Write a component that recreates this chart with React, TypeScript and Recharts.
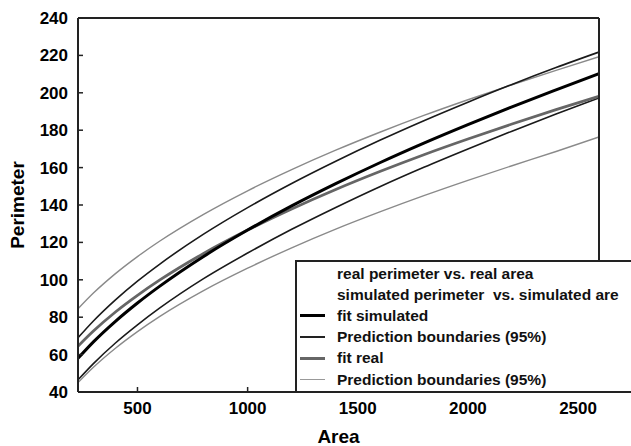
import React from 'react';
import { LineChart, Line, XAxis, YAxis, Legend, Label } from 'recharts';

// Area values (x) at which the curves were read
const areaValues = [230, 300, 400, 500, 600, 800, 1000, 1200, 1400, 1600, 1800, 2000, 2200, 2400, 2595];
// Perimeter values
const fitSimulated = [58.0, 66.8, 77.8, 87.6, 96.5, 112.5, 126.6, 139.5, 151.4, 162.6, 173.1, 183.0, 192.5, 201.6, 210.3];
const simUpper = [69.0, 78.0, 89.3, 99.3, 108.3, 124.4, 138.6, 151.5, 163.4, 174.6, 185.1, 195.0, 204.5, 213.5, 221.8];
const simLower = [46.5, 55.2, 66.2, 75.9, 84.8, 100.6, 114.3, 127.0, 138.7, 149.8, 160.2, 170.0, 179.5, 188.7, 197.3];
const fitReal = [64.5, 72.6, 82.8, 91.7, 99.8, 114.1, 126.6, 137.9, 148.3, 157.9, 166.9, 175.3, 183.3, 191.0, 198.2];
const realUpper = [84.5, 92.9, 103.3, 112.4, 120.6, 135.0, 147.6, 158.9, 169.3, 178.9, 187.9, 196.3, 204.3, 212.0, 219.3];
const realLower = [45.0, 53.2, 63.4, 72.3, 80.3, 94.2, 106.2, 117.1, 127.1, 136.3, 145.0, 153.2, 161.0, 168.6, 176.4];

const xTicks = [500, 1000, 1500, 2000, 2500];
const yTicks = [40, 60, 80, 100, 120, 140, 160, 180, 200, 220, 240];

const legendLabels = [
  'real perimeter vs. real area',
  'simulated perimeter  vs. simulated are',
  'fit simulated',
  'Prediction boundaries (95%)',
  'fit real',
  'Prediction boundaries (95%)',
];

const data = areaValues.map((a, i) => ({
  area: a,
  fitSim: fitSimulated[i],
  simUp: simUpper[i],
  simLo: simLower[i],
  fitReal: fitReal[i],
  realUp: realUpper[i],
  realLo: realLower[i],
}));

const legendMarkers: ({ stroke: string; w: number } | null)[] = [
  null,
  null,
  { stroke: '#000', w: 3.5 },
  { stroke: '#222', w: 2 },
  { stroke: '#666', w: 3 },
  { stroke: '#999', w: 1.6 },
];

const FONT = '"Liberation Sans", Arial, Helvetica, sans-serif';

const renderLegend = () => (
  <div
    style={{
      boxSizing: 'border-box',
      width: 336,
      height: 133,
      background: '#fff',
      borderTop: '2px solid #222',
      borderLeft: '2px solid #222',
      borderBottom: '2px solid #222',
      overflow: 'hidden',
      paddingTop: 1,
      fontWeight: 'bold',
      fontSize: 15.5,
      color: '#111',
      fontFamily: FONT,
    }}
  >
    {legendLabels.map((label, i) => {
      const m = legendMarkers[i];
      return (
        <div key={i} style={{ display: 'flex', alignItems: 'center', height: 21.2, whiteSpace: 'pre' }}>
          <div
            style={{
              width: 25,
              marginLeft: 3,
              marginRight: 12,
              height: 0,
              borderTop: m ? `${m.w}px solid ${m.stroke}` : 'none',
              flex: '0 0 auto',
            }}
          />
          <span>{label}</span>
        </div>
      );
    })}
  </div>
);

const axisLineStyle = { stroke: '#222', strokeWidth: 2 };
const tickLineStyle = { stroke: '#222', strokeWidth: 1.5 };
const tickStyle = { fill: '#000', fontSize: 17, fontWeight: 'bold' as const };

export default function App() {
  return (
    <div style={{ position: 'absolute', left: 0, top: 0, width: 631, height: 446, background: '#fff', fontFamily: FONT, overflow: 'hidden' }}>
      <LineChart width={631} height={446} data={data} margin={{ top: 17, right: 31, left: 0, bottom: 0 }}>
        <XAxis
          dataKey="area"
          type="number"
          domain={[230, 2595]}
          ticks={xTicks}
          interval={0}
          height={54}
          tickSize={-5}
          tickMargin={15}
          axisLine={axisLineStyle}
          tickLine={tickLineStyle}
          tick={tickStyle}
          allowDataOverflow
        >
          <Label value="Area" position="insideBottom" offset={3} style={{ fontSize: 19, fontWeight: 'bold', fill: '#000' }} />
        </XAxis>
        <XAxis
          xAxisId="top"
          orientation="top"
          dataKey="area"
          type="number"
          domain={[230, 2595]}
          ticks={xTicks}
          interval={0}
          height={1}
          tickSize={-5}
          tick={false}
          axisLine={axisLineStyle}
          tickLine={tickLineStyle}
          allowDataOverflow
        />
        <YAxis
          type="number"
          domain={[40, 240]}
          ticks={yTicks}
          interval={0}
          width={78}
          tickSize={-5}
          tickMargin={15}
          axisLine={axisLineStyle}
          tickLine={tickLineStyle}
          tick={tickStyle}
          allowDataOverflow
        >
          <Label
            value="Perimeter"
            angle={-90}
            position="insideLeft"
            offset={17}
            style={{ fontSize: 19, fontWeight: 'bold', fill: '#000', textAnchor: 'middle' }}
          />
        </YAxis>
        <YAxis
          yAxisId="right"
          orientation="right"
          type="number"
          domain={[40, 240]}
          ticks={yTicks}
          interval={0}
          width={1}
          tickSize={-5}
          tick={false}
          axisLine={axisLineStyle}
          tickLine={tickLineStyle}
          allowDataOverflow
        />
        <Legend
          layout="horizontal"
          verticalAlign="middle"
          align="center"
          content={renderLegend}
          wrapperStyle={{ left: 295, top: 260, width: 336, height: 133 }}
        />
        <Line type="monotone" dataKey="realUp" stroke="#8a8a8a" strokeWidth={1.4} dot={false} isAnimationActive={false} />
        <Line type="monotone" dataKey="realLo" stroke="#8a8a8a" strokeWidth={1.4} dot={false} isAnimationActive={false} />
        <Line type="monotone" dataKey="simUp" stroke="#1a1a1a" strokeWidth={1.6} dot={false} isAnimationActive={false} />
        <Line type="monotone" dataKey="simLo" stroke="#1a1a1a" strokeWidth={1.6} dot={false} isAnimationActive={false} />
        <Line type="monotone" dataKey="fitReal" stroke="#666" strokeWidth={2.8} dot={false} isAnimationActive={false} />
        <Line type="monotone" dataKey="fitSim" stroke="#000" strokeWidth={3} dot={false} isAnimationActive={false} />
      </LineChart>
    </div>
  );
}
